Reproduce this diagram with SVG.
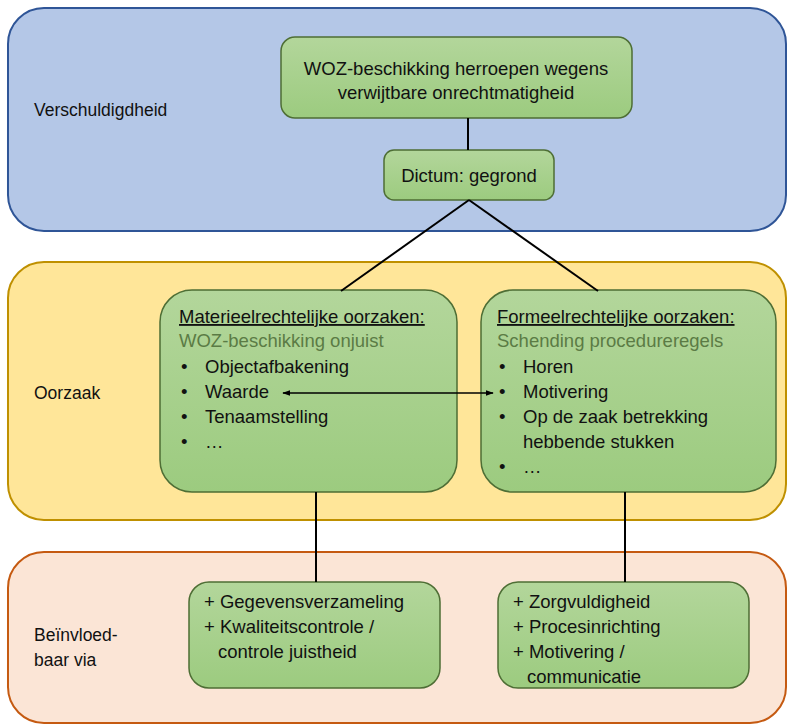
<svg xmlns="http://www.w3.org/2000/svg" width="790" height="727" viewBox="0 0 790 727">
<defs>
<marker id="ah" viewBox="0 0 10 10" refX="9" refY="5" markerWidth="8" markerHeight="8" orient="auto-start-reverse" markerUnits="userSpaceOnUse"><path d="M0,1.5 L10,5 L0,8.5 z" fill="#000"/></marker>
<linearGradient id="gg" x1="0" y1="0" x2="0" y2="1"><stop offset="0" stop-color="#B3D69B"/><stop offset="1" stop-color="#9CCB7F"/></linearGradient>
</defs>
<style>
text{font-family:"Liberation Sans",Arial,sans-serif;font-size:18.5px;fill:#111}
.lbl{font-size:17.5px}
.node{fill:url(#gg);stroke:#4E6E35;stroke-width:1.5}
.sub{fill:#5B7B45}
.c{text-anchor:middle}
.conn line{stroke:#000;stroke-width:2}
</style>
<g id="panel-verschuldigdheid"><rect x="8" y="8" width="778" height="223" rx="36" fill="#B4C7E7" stroke="#2F5597" stroke-width="2"/><text class="lbl" x="34" y="116">Verschuldigdheid</text></g>
<g id="panel-oorzaak"><rect x="8" y="262" width="778" height="258" rx="36" fill="#FFE699" stroke="#BF9000" stroke-width="2"/><text class="lbl" x="34" y="399">Oorzaak</text></g>
<g id="panel-beinvloedbaar"><rect x="8" y="552" width="778" height="171" rx="36" fill="#FBE5D6" stroke="#C55A11" stroke-width="2"/><text class="lbl" x="34" y="641">Beïnvloed-</text><text class="lbl" x="34" y="666">baar via</text></g>
<g id="n-herroepen"><rect class="node" x="281" y="37" width="351" height="81" rx="14"/><text class="c" x="456" y="75">WOZ-beschikking herroepen wegens</text><text class="c" x="456" y="99">verwijtbare onrechtmatigheid</text></g>
<g id="n-dictum"><rect class="node" x="384" y="150" width="170" height="50" rx="10"/><text class="c" x="469" y="182">Dictum: gegrond</text></g>
<g id="n-materieel"><rect class="node" x="160" y="290" width="297" height="202" rx="32"/>
<text x="179" y="323" text-decoration="underline">Materieelrechtelijke oorzaken:</text>
<text class="sub" x="179" y="347">WOZ-beschikking onjuist</text>
<text x="181" y="373">•</text><text x="205" y="373">Objectafbakening</text>
<text x="181" y="398">•</text><text x="205" y="398">Waarde</text>
<text x="181" y="423">•</text><text x="205" y="423">Tenaamstelling</text>
<text x="181" y="448">•</text><text x="205" y="448">…</text></g>
<g id="n-formeel"><rect class="node" x="481" y="290" width="295" height="202" rx="32"/>
<text x="497" y="323" text-decoration="underline">Formeelrechtelijke oorzaken:</text>
<text class="sub" x="497" y="347">Schending procedureregels</text>
<text x="499" y="373">•</text><text x="523" y="373">Horen</text>
<text x="499" y="398">•</text><text x="523" y="398">Motivering</text>
<text x="499" y="423">•</text><text x="523" y="423">Op de zaak betrekking</text>
<text x="523" y="448">hebbende stukken</text>
<text x="499" y="473">•</text><text x="523" y="473">…</text></g>
<g id="n-gegevens"><rect class="node" x="189" y="582" width="251" height="106" rx="20"/>
<text x="204" y="608">+ Gegevensverzameling</text>
<text x="204" y="633">+ Kwaliteitscontrole /</text>
<text x="218" y="658">controle juistheid</text></g>
<g id="n-zorg"><rect class="node" x="498" y="582" width="251" height="106" rx="20"/>
<text x="513" y="608">+ Zorgvuldigheid</text>
<text x="513" y="633">+ Procesinrichting</text>
<text x="513" y="658">+ Motivering /</text>
<text x="527" y="683">communicatie</text></g>
<g class="conn" id="connectors">
<line x1="468" y1="118" x2="468" y2="150"/>
<line x1="469" y1="200" x2="341" y2="291"/>
<line x1="469" y1="200" x2="598" y2="291"/>
<line x1="316" y1="492" x2="316" y2="582"/>
<line x1="625" y1="492" x2="625" y2="582"/>
<line x1="283" y1="393" x2="493" y2="393" style="stroke-width:1.5" marker-start="url(#ah)" marker-end="url(#ah)"/>
</g>
</svg>
